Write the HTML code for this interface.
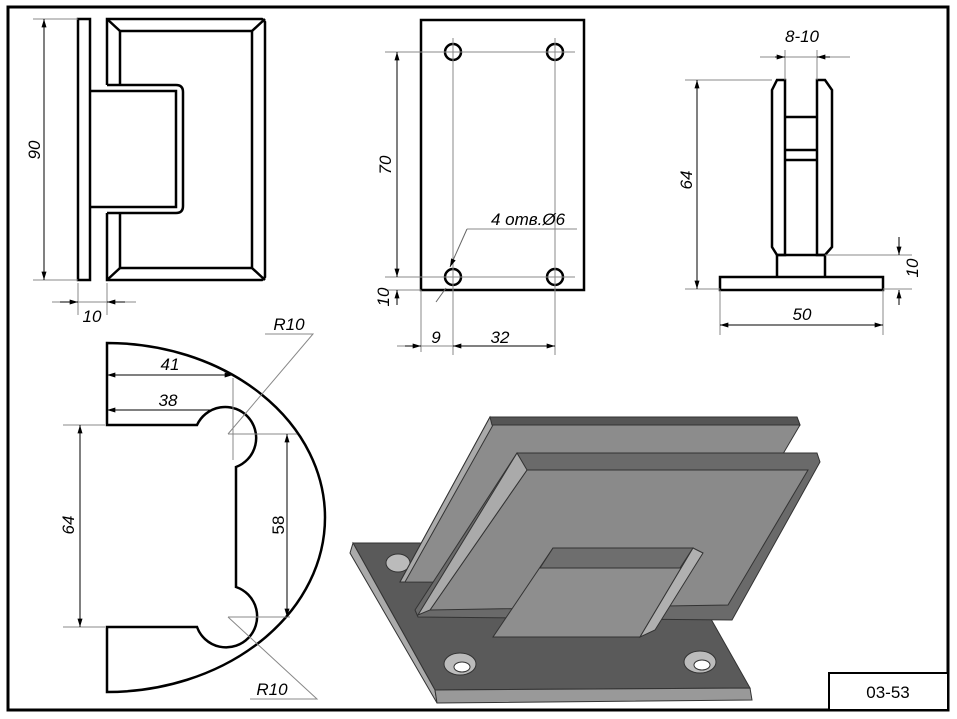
<!DOCTYPE html>
<html><head><meta charset="utf-8"><style>
html,body{margin:0;padding:0;background:#fff}
svg{display:block}
text{font-family:"Liberation Sans",sans-serif;font-style:italic;font-size:17px;fill:#000}
</style></head><body>
<svg width="957" height="719" viewBox="0 0 957 719" xmlns="http://www.w3.org/2000/svg">
<defs>
<marker id="a" viewBox="0 0 10 6" refX="10" refY="3" markerWidth="10" markerHeight="5" orient="auto-start-reverse" markerUnits="userSpaceOnUse"><path d="M0,0L10,3L0,6z" fill="#000"/></marker>
</defs>
<rect x="8" y="7" width="940" height="703" fill="none" stroke="#000" stroke-width="3"/>
<rect x="829" y="673" width="119" height="37" fill="#fff" stroke="#000" stroke-width="2"/>
<text x="888" y="698" text-anchor="middle" style="font-style:normal">03-53</text>

<g fill="none" stroke="#000" stroke-width="2.5">
<rect x="78" y="19" width="12" height="261"/>
<path d="M107,85 V19 H262 L265,22 V277 L262,280 H107 V213"/>
<path d="M120,85 V31 H252 V268 H120 V213"/>
<path d="M107,19 L120,31 M265,19 L252,31 M265,280 L252,268 M107,280 L120,268"/>
<path d="M107,85 H176 Q183,85 183,92 V206 Q183,213 176,213 H107"/>
<path d="M90,91 H176 V207 H90"/>
<rect x="421" y="20" width="163" height="270"/>
<circle cx="453" cy="52" r="8"/><circle cx="555" cy="52" r="8"/>
<circle cx="453" cy="277" r="8"/><circle cx="555" cy="277" r="8"/>
<rect x="720" y="277" width="163" height="13"/>
<path d="M777,277 V255 H825 V277"/>
<path d="M785,255 V80 H777 L772,90 V247 L777,255 Z"/>
<path d="M817,255 V80 H825 L832,90 V247 L825,255 Z"/>
<path d="M785,117 H817 M785,150 H817 M785,160 H817"/>
<path d="M107,343 V425 H197 A31,31 0 1,1 236,467 V587 A31,31 0 1,1 197,627 H107 V692 A218,174.5 0 0,0 107,343 Z"/>
</g>

<g fill="none" stroke="#888" stroke-width="1">
<path d="M33,19 H78 M33,280 H78 M78,283 V315 M107,283 V315 M52,302 H136"/>
<path d="M385,52 H575 M385,277 H575 M385,290 H421 M453,38 V355 M555,38 V355 M421,290 V352 M397,346 H555"/>
<path d="M685,80 H772 M685,289 H720 M785,50 V80 M817,50 V80 M760,57 H850 M825,255 H912 M883,290 V335 M720,290 V335 M883,289 H912"/>
<path d="M63,425 H105 M63,627 H105 M228,434 H297 M228,617 H290 M233,378 V460"/>
<path d="M467,229 H577 M265,334 H313 L228,434 M250,699 H317 L228,617"/>
</g>
<g stroke="#000" stroke-width="1" marker-start="url(#a)" marker-end="url(#a)">
<line x1="44" y1="19" x2="44" y2="280"/>
<line x1="397" y1="52" x2="397" y2="277"/>
<line x1="697" y1="80" x2="697" y2="289"/>
<line x1="720" y1="325" x2="883" y2="325"/>
<line x1="80" y1="425" x2="80" y2="627"/>
<line x1="287" y1="434" x2="287" y2="617"/>
<line x1="107" y1="375" x2="233" y2="375"/>
</g>
<g stroke="#000" stroke-width="1">
<line x1="107" y1="410" x2="210" y2="410" marker-start="url(#a)"/>
<line x1="60" y1="302" x2="78" y2="302" marker-end="url(#a)"/>
<line x1="125" y1="302" x2="107" y2="302" marker-end="url(#a)"/>
<line x1="775" y1="57" x2="785" y2="57" marker-end="url(#a)"/>
<line x1="830" y1="57" x2="817" y2="57" marker-end="url(#a)"/>
<line x1="899" y1="237" x2="899" y2="255" marker-end="url(#a)"/>
<line x1="899" y1="305" x2="899" y2="290" marker-end="url(#a)"/>
<line x1="405" y1="346" x2="421" y2="346" marker-end="url(#a)"/>
<line x1="453" y1="346" x2="555" y2="346" marker-start="url(#a)" marker-end="url(#a)"/>
<line x1="397" y1="305" x2="397" y2="290" marker-end="url(#a)"/>
<line x1="467" y1="229" x2="450" y2="267" stroke="#666" marker-end="url(#a)"/>
<line x1="446" y1="288" x2="436" y2="302" stroke="#666"/>
</g>

<text transform="translate(40,150) rotate(-90)" text-anchor="middle">90</text>
<text x="92" y="322" text-anchor="middle">10</text>
<text transform="translate(391,165) rotate(-90)" text-anchor="middle">70</text>
<text transform="translate(389,297) rotate(-90)" text-anchor="middle">10</text>
<text x="436" y="343" text-anchor="middle">9</text>
<text x="500" y="343" text-anchor="middle">32</text>
<text x="528" y="225" text-anchor="middle">4 отв.Ø6</text>
<text x="802" y="42" text-anchor="middle">8-10</text>
<text transform="translate(692,180) rotate(-90)" text-anchor="middle">64</text>
<text transform="translate(918,268) rotate(-90)" text-anchor="middle">10</text>
<text x="802" y="320" text-anchor="middle">50</text>
<text x="170" y="370" text-anchor="middle">41</text>
<text x="168" y="406" text-anchor="middle">38</text>
<text transform="translate(74,525) rotate(-90)" text-anchor="middle">64</text>
<text transform="translate(284,525) rotate(-90)" text-anchor="middle" style="font-style:normal">58</text>
<text x="289" y="330" text-anchor="middle">R10</text>
<text x="272" y="695" text-anchor="middle">R10</text>

<g stroke="#333" stroke-width="1">
<path d="M353,543 L668,543 L750,688 L435,690 Z" fill="#5a5a5a"/>
<path d="M353,543 L435,690 L437,703 L350,553 Z" fill="#aaa"/>
<path d="M435,690 L750,688 L752,700 L437,703 Z" fill="#999"/>
<ellipse cx="460" cy="664" rx="16" ry="11" fill="#bbb"/><ellipse cx="462" cy="667" rx="8" ry="5" fill="#fff"/>
<ellipse cx="700" cy="662" rx="16" ry="11" fill="#bbb"/><ellipse cx="702" cy="665" rx="8" ry="5" fill="#fff"/>
<ellipse cx="398" cy="563" rx="12" ry="9" fill="#bbb"/>
<path d="M490,417 L797,417 L800,425 L707,583 L400,582 Z" fill="#8c8c8c"/>
<path d="M490,417 L400,582 L405,582 L493,425 Z" fill="#aaa"/>
<path d="M490,417 L797,417 L800,425 L492,425 Z" fill="#555"/>
<path d="M517,453 L817,453 L820,462 L732,620 L418,617 L415,610 Z" fill="#6a6a6a"/>
<path d="M527,470 L808,470 L728,605 L430,610 Z" fill="#8a8a8a"/>
<path d="M517,453 L527,470 L430,610 L418,615 Z" fill="#aaa"/>
<path d="M553,548 L693,548 L640,637 L493,637 Z" fill="#8e8e8e"/>
<path d="M553,548 L693,548 L680,568 L540,568 Z" fill="#6e6e6e"/>
<path d="M693,548 L703,553 L655,630 L640,637 Z" fill="#b0b0b0"/>
</g>
</svg>
</body></html>
